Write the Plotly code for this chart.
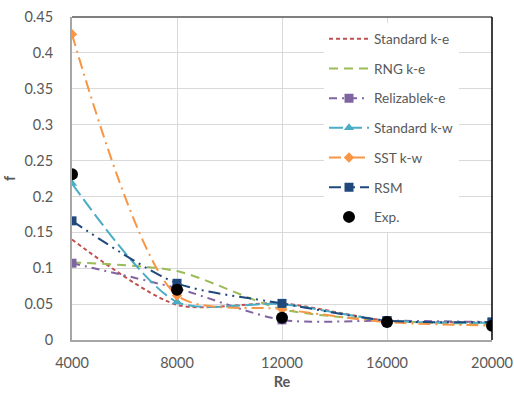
import plotly.graph_objects as go

re_vals = [4000, 8000, 12000, 16000, 20000]
std_ke = [0.140, 0.049, 0.051, 0.027, 0.025]
rng_ke = [0.108, 0.096, 0.043, 0.027, 0.022]
real_ke = [0.107, 0.072, 0.028, 0.027, 0.025]
std_kw = [0.218, 0.053, 0.050, 0.027, 0.024]
sst_kw = [0.426, 0.062, 0.043, 0.025, 0.020]
rsm = [0.166, 0.079, 0.051, 0.027, 0.025]
exp_f = [0.231, 0.070, 0.031, 0.025, 0.020]

x_ticks = [4000, 8000, 12000, 16000, 20000]
y_ticks = [0, 0.05, 0.1, 0.15, 0.2, 0.25, 0.3, 0.35, 0.4, 0.45]
y_labels = ["0", "0.05", "0.1", "0.15", "0.2", "0.25", "0.3", "0.35", "0.4", "0.45"]

FONT = "Lato, 'Open Sans', sans-serif"
GREY = "#595959"
fig = go.Figure()

series = [
    ("Standard k-e", std_ke, "#C0504D", "4px,3px", None, 0),
    ("RNG k-e", rng_ke, "#9BBB59", "9px,6px", None, 0),
    ("Relizablek-e", real_ke, "#8064A2", "8px,5px,2px,5px", "square", 9),
    ("Standard k-w", std_kw, "#4BACC6", "14px,5px", "triangle-up", 9),
    ("SST k-w", sst_kw, "#F79646", "12px,5px,2px,5px", "diamond", 8),
    ("RSM", rsm, "#1F497D", "12px,5px,2px,5px,2px,5px", "square", 9),
]
for i, (name, ys, col, dash, sym, size) in enumerate(series):
    mode = "lines+markers" if sym else "lines"
    kw = dict(marker=dict(symbol=sym, size=size, color=col)) if sym else {}
    fig.add_trace(go.Scatter(
        x=re_vals, y=ys, name=name, mode=mode, legendgroup=f"g{i}",
        line=dict(color=col, width=2, dash=dash, shape="spline", smoothing=0.75), **kw))

fig.add_trace(go.Scatter(
    x=re_vals, y=exp_f, name="Exp.", mode="markers", legendgroup="g7",
    marker=dict(symbol="circle", size=12, color="black")))

fig.update_layout(
    width=514, height=393,
    margin=dict(l=72, r=22, t=17, b=53),
    paper_bgcolor="white", plot_bgcolor="white",
    font=dict(family=FONT, size=14.5, color=GREY),
    legend=dict(x=0.60, y=0.98, xanchor="left", yanchor="top",
                bgcolor="white", font=dict(size=13.6, color=GREY),
                tracegroupgap=9, itemwidth=40),
    showlegend=True,
)
fig.update_xaxes(range=[4000, 20000], tickvals=x_ticks, ticktext=[str(v) for v in x_ticks],
                 showgrid=True, gridcolor="#D9D9D9", gridwidth=1,
                 showline=True, linecolor="#A6A6A6", linewidth=2,
                 ticks="", zeroline=False, ticklabelstandoff=9, automargin=False,
                 title=dict(text="<b>Re</b>", font=dict(size=14.5, color=GREY), standoff=6))
fig.update_yaxes(range=[0, 0.45], tickvals=y_ticks, ticktext=y_labels,
                 showgrid=True, gridcolor="#D9D9D9", gridwidth=1,
                 showline=True, linecolor="#A6A6A6", linewidth=2,
                 ticks="", zeroline=False, ticklabelstandoff=14, automargin=False,
                 title=dict(text="<b>f</b>", font=dict(size=14.5, color=GREY), standoff=5))
# plot area border: top grey, right black
fig.add_shape(type="line", xref="paper", yref="paper", x0=0, x1=1, y0=1, y1=1,
              line=dict(color="#7F7F7F", width=2))
fig.add_shape(type="line", xref="paper", yref="paper", x0=1, x1=1, y0=0, y1=1,
              line=dict(color="#000000", width=1.5))

fig.write_html("out.html")
